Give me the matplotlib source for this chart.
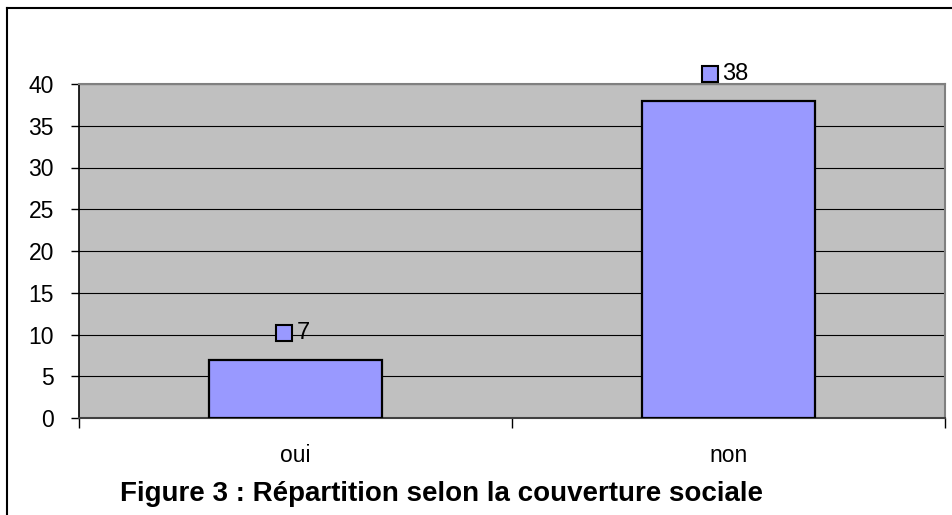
import matplotlib
matplotlib.use("Agg")
import matplotlib.pyplot as plt
import matplotlib.transforms as mtransforms
from matplotlib.lines import Line2D

categories = ["oui", "non"]
values = [7, 38]
title = "Figure 3 : Répartition selon la couverture sociale"
y_ticks = [0, 5, 10, 15, 20, 25, 30, 35, 40]

plt.rcParams['font.family'] = ['Liberation Sans', 'DejaVu Sans']

W, H = 953, 515
fig = plt.figure(figsize=(W / 100, H / 100), dpi=100)
fig.patch.set_facecolor('white')

# outer frame (only left and top visible in the crop)
fig.add_artist(Line2D([7 / W, 7 / W], [0, 1 - 8 / H], transform=fig.transFigure, color='black', lw=1.5))
fig.add_artist(Line2D([7 / W, 1], [1 - 8 / H, 1 - 8 / H], transform=fig.transFigure, color='black', lw=1.5))

ax = fig.add_axes([79 / W, 1 - 418 / H, (945 - 79) / W, (418 - 84) / H])
ax.set_facecolor('#C0C0C0')

x = list(range(len(categories)))
ax.bar(x, values, width=0.4, color='#9999FF', edgecolor='black', linewidth=1.6, zorder=3)

ax.set_xlim(-0.5, len(categories) - 0.5)
ax.set_ylim(0, 40)
ax.set_yticks(y_ticks)
ax.yaxis.grid(True, color='black', linewidth=0.8, zorder=1)
ax.set_axisbelow(True)

ax.tick_params(axis='y', labelsize=16.5, length=6, width=1, pad=12, colors='black')
ax.set_xticks(x)
ax.set_xticklabels(categories)
ax.set_xticks([i - 0.5 for i in range(len(categories) + 1)], minor=True)
ax.tick_params(axis='x', which='major', length=0, labelsize=16.5, pad=19)
ax.tick_params(axis='x', which='minor', length=7, width=1)

for side in ['top', 'right']:
    ax.spines[side].set_color('#808080')
    ax.spines[side].set_linewidth(1.5)
ax.spines['left'].set_color('black')
ax.spines['bottom'].set_color('#404040')
ax.spines['left'].set_linewidth(1.2)
ax.spines['bottom'].set_linewidth(1.5)

# data labels: legend-key square followed by the value
for xi, v in zip(x, values):
    n = len(str(v))
    sq_dx = -5 - 7 * n
    tr = mtransforms.offset_copy(ax.transData, fig=fig, x=sq_dx, y=27, units='dots')
    ax.plot([xi], [v], marker='s', markersize=11.5, markerfacecolor='#9999FF',
            markeredgecolor='black', markeredgewidth=1.5, transform=tr,
            clip_on=False, zorder=5)
    ax.annotate(str(v), xy=(xi, v), xytext=(sq_dx + 13, 27), textcoords='offset pixels',
                ha='left', va='center', fontsize=17, zorder=5)

fig.text(442 / W, 1 - 494 / H, title, ha='center', va='center',
         fontsize=20, fontweight='bold')

fig.savefig('out.png', dpi=100)
